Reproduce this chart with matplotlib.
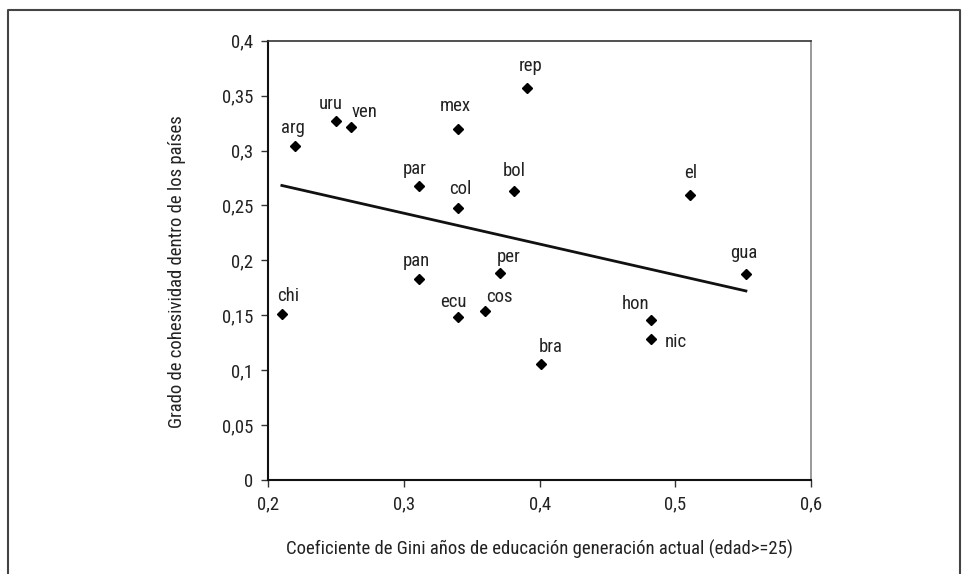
import numpy as np
import matplotlib
matplotlib.use("Agg")
import matplotlib.pyplot as plt
from matplotlib.lines import Line2D

plt.rcParams['font.family'] = ['Roboto Condensed', 'Liberation Sans Narrow', 'Roboto', 'DejaVu Sans']

# datos
paises = ['arg', 'uru', 'ven', 'mex', 'rep', 'par', 'col', 'bol', 'el', 'gua',
          'pan', 'per', 'ecu', 'cos', 'hon', 'nic', 'bra', 'chi']
gini = [0.220, 0.250, 0.261, 0.340, 0.391, 0.311, 0.340, 0.381, 0.511, 0.552,
        0.311, 0.371, 0.340, 0.360, 0.482, 0.482, 0.401, 0.210]
cohesion = [0.3045, 0.3267, 0.3215, 0.320, 0.3567, 0.268, 0.2473, 0.263, 0.2594, 0.1873,
            0.1827, 0.1888, 0.1488, 0.1536, 0.1458, 0.1282, 0.1055, 0.1515]

x_ticks = [0.2, 0.3, 0.4, 0.5, 0.6]
y_ticks = [0, 0.05, 0.1, 0.15, 0.2, 0.25, 0.3, 0.35, 0.4]

# desplazamiento de cada etiqueta (pixeles)
offsets = {'arg': (-2, 18), 'uru': (-5, 17), 'ven': (13, 15), 'mex': (-3, 23),
           'rep': (3, 22), 'par': (-4, 17), 'col': (2, 19), 'bol': (0, 20),
           'el': (0, 22), 'gua': (-2, 21), 'pan': (-3, 18), 'per': (8, 16),
           'ecu': (-5, 15), 'cos': (14, 14), 'hon': (-15, 16), 'nic': (25, -3),
           'bra': (10, 17), 'chi': (6, 18)}

fs = 13.5

fig = plt.figure(figsize=(9.63, 5.74), dpi=100)
ax = fig.add_axes([0.2786, 0.1638, 0.5636, 0.7653])

ax.plot(gini, cohesion, 'D', color='black', markersize=5.5, linestyle='none', zorder=3)

# linea de tendencia
m, b = np.polyfit(gini, cohesion, 1)
xs = np.array([min(gini), max(gini)])
ax.plot(xs, m * xs + b, color='#111111', linewidth=2)

for p, x, y in zip(paises, gini, cohesion):
    dx, dy = offsets[p]
    ax.annotate(p, (x, y), xytext=(dx, dy), textcoords='offset pixels',
                ha='center', va='center', fontsize=fs, color='#222222')

ax.set_xlim(0.2, 0.6)
ax.set_ylim(0, 0.4)
ax.set_xticks(x_ticks)
ax.set_yticks(y_ticks)
ax.set_xticklabels([str(v).replace('.', ',') for v in x_ticks], fontsize=fs)
ax.set_yticklabels(['0' if v == 0 else str(v).replace('.', ',') for v in y_ticks], fontsize=fs)
ax.tick_params(direction='out', length=5, width=1, color='#333333', pad=6, labelcolor='#222222')

for s in ['left', 'bottom']:
    ax.spines[s].set_linewidth(1.5)
    ax.spines[s].set_color('#111111')
ax.spines['top'].set_color('#333333')
ax.spines['top'].set_linewidth(1.2)
ax.spines['right'].set_color('#888888')
ax.spines['right'].set_linewidth(1.2)

ax.set_xlabel('Coeficiente de Gini años de educación generación actual (edad>=25)', fontsize=fs, color='#222222')
ax.set_ylabel('Grado de cohesividad dentro de los países', fontsize=fs, color='#222222')
ax.xaxis.set_label_coords(0.5, -0.159)
ax.xaxis.label.set_va('center')
ax.yaxis.set_label_coords(-0.168, 0.4746)
ax.yaxis.label.set_va('center')

# marco de la figura (abierto por abajo)
fig.add_artist(Line2D([0.0085, 0.0085, 0.9965, 0.9965], [0.0, 0.9826, 0.9826, 0.0],
                      transform=fig.transFigure, color='#444444', linewidth=1.5))

fig.savefig('out.png', dpi=100)
